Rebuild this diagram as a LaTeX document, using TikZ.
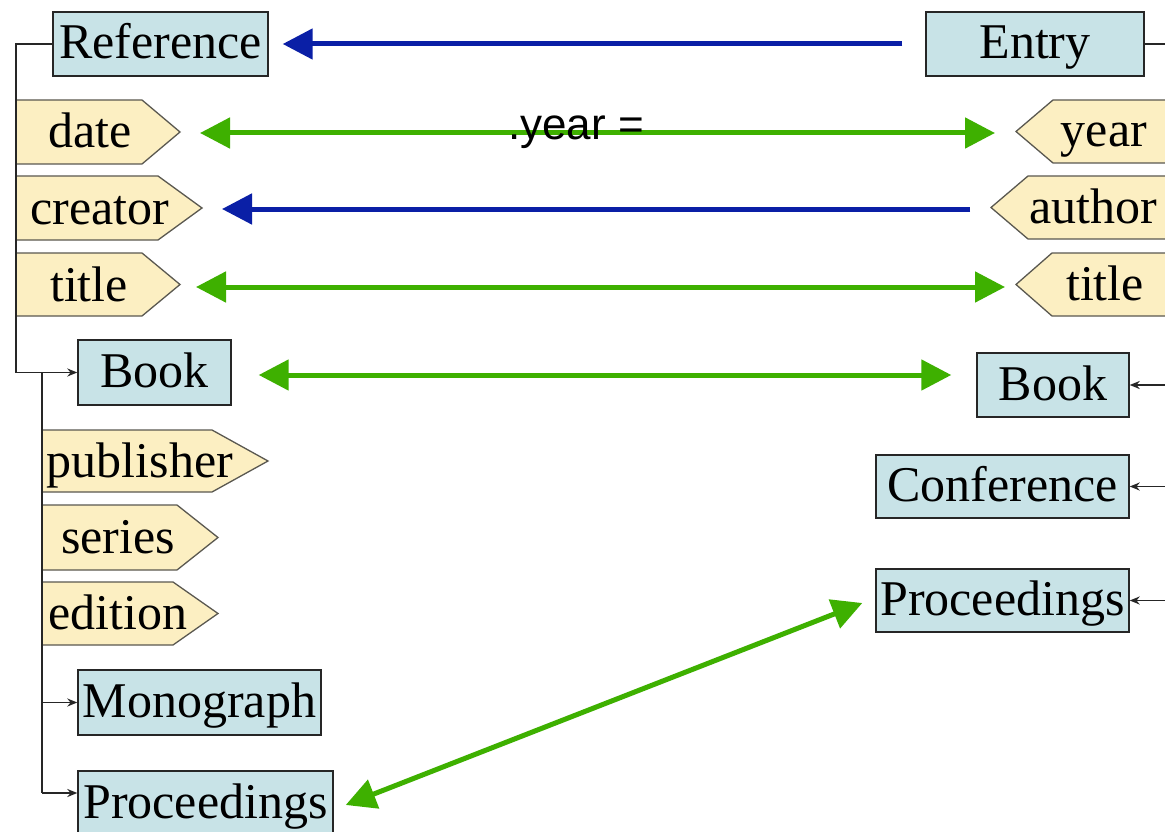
\documentclass[tikz,border=0pt]{standalone}
\usepackage{fontspec}
\setmainfont{Liberation Serif}
\newfontfamily\labelsans{Liberation Sans}
\usetikzlibrary{arrows.meta,calc}

\definecolor{clsfill}{HTML}{C8E3E7}
\definecolor{tagfill}{HTML}{FCEFC2}
\definecolor{tagline}{HTML}{5A5850}
\definecolor{mapblue}{HTML}{0A1FA6}
\definecolor{mapgreen}{HTML}{3EB000}

\tikzset{
  bigfont/.style={font=\fontsize{50}{60}\selectfont},
  cls/.style={bigfont, draw=black!85, line width=1.4pt, fill=clsfill, inner sep=0pt,
    text height=36pt, text depth=6pt, minimum height=64pt},
  taglabel/.style={bigfont, inner sep=0pt, anchor=base},
  tagshape/.style={draw=tagline, line width=1.3pt, fill=tagfill, line join=miter},
  tree/.style={draw=black!85, line width=1.7pt},
  treearrow/.style={tree, -{Stealth[length=10pt,width=8pt]}},
  oneway/.style={draw=mapblue, line width=5pt, -{Triangle[length=30pt,width=30pt]}},
  twoway/.style={draw=mapgreen, line width=5pt,
    {Triangle[length=30pt,width=30pt]}-{Triangle[length=30pt,width=30pt]}},
}

\begin{document}
\begin{tikzpicture}[x=1pt,y=-1pt]
\fill[white] (0,0) rectangle (1165,832);
\useasboundingbox (0,0) rectangle (1165,832);

% trunk positions and the right edge
\coordinate (trunkx) at (16,0);
\coordinate (sub) at (42,0);
\coordinate (edge) at (1175,0);

% ---------- left hierarchy: Reference ----------
\node[cls, minimum width=215pt] (ref) at (160.5,44) {Reference};

\filldraw[tagshape] (16,100) -- (142,100) -- (180,132) -- (142,164) -- (16,164) -- cycle;
\coordinate (dateTip) at (180,132);
\node[taglabel] (date) at (90,148) {date};

\filldraw[tagshape] (16,176) -- (158,176) -- (202,208) -- (158,240) -- (16,240) -- cycle;
\coordinate (creatorTip) at (202,208);
\node[taglabel] (creator) at (100,224) {creator};

\filldraw[tagshape] (16,253) -- (142,253) -- (180,284.5) -- (142,316) -- (16,316) -- cycle;
\coordinate (titleLTip) at (180,284.5);
\node[taglabel] (titleL) at (89,301) {title};

\node[cls, minimum width=153pt, minimum height=65pt] (bookL) at (154.5,372.5) {Book};

\filldraw[tagshape] (42,430) -- (212,430) -- (268,461) -- (212,492) -- (42,492) -- cycle;
\node[taglabel] (publisher) at (140,477) {publisher};

\filldraw[tagshape] (42,505) -- (177,505) -- (218,537.5) -- (177,570) -- (42,570) -- cycle;
\node[taglabel] (series) at (118,553) {series};

\filldraw[tagshape] (42,582) -- (173,582) -- (218,613.5) -- (173,645) -- (42,645) -- cycle;
\node[taglabel] (edition) at (118,629) {edition};

\node[cls, minimum width=243pt, minimum height=65pt] (mono) at (199.5,702.5) {Monograph};
\node[cls, minimum width=255pt] (procL) at (205.5,803) {Proceedings};

% tree lines on the left
\draw[tree] (ref.west) -| (bookL.west -| trunkx);
\draw[treearrow] (bookL.west -| trunkx) -- (bookL.west);
\coordinate (procIn) at ($(procL.west)+(0,-10)$);
\draw[tree] (bookL.west -| sub) -- (procIn -| sub);
\draw[treearrow] (mono.west -| sub) -- (mono.west);
\draw[treearrow] (procIn -| sub) -- (procIn);

% ---------- right hierarchy: Entry ----------
\node[cls, minimum width=218pt] (entry) at (1035,44) {Entry};
\draw[tree] (entry.east) -- (entry.east -| edge);

\filldraw[tagshape] (1180,100) -- (1053,100) -- (1016,131.5) -- (1053,163) -- (1180,163) -- cycle;
\coordinate (yearTip) at (1016,131.5);
\node[taglabel] (year) at (1104,147) {year};

\filldraw[tagshape] (1180,176) -- (1028,176) -- (991,207.5) -- (1028,239) -- (1180,239) -- cycle;
\coordinate (authorTip) at (991,207.5);
\node[taglabel] (author) at (1093,223) {author};

\filldraw[tagshape] (1180,253) -- (1052,253) -- (1016,284.5) -- (1052,316) -- (1180,316) -- cycle;
\coordinate (titleRTip) at (1016,284.5);
\node[taglabel] (titleR) at (1105,300) {title};

\node[cls, minimum width=152pt] (bookR) at (1053,385) {Book};
\node[cls, minimum width=253pt, minimum height=63pt] (conf) at (1002.5,486.5) {Conference};
\node[cls, minimum width=253pt, minimum height=63pt] (procR) at (1002.5,600.5) {Proceedings};

\draw[treearrow] (bookR.east -| edge) -- (bookR.east);
\draw[treearrow] (conf.east -| edge) -- (conf.east);
\draw[treearrow] (procR.east -| edge) -- (procR.east);

% ---------- mappings ----------
\draw[oneway] ($(entry.west)+(-23,0)$) -- ($(ref.east)+(14,0)$);
\draw[twoway] ($(dateTip)+(20,1)$) -- ($(yearTip)+(-21,1.5)$);
\draw[oneway] ($(authorTip)+(-21,1.5)$) -- ($(creatorTip)+(20,1)$);
\draw[twoway] ($(titleLTip)+(16,2.5)$) -- ($(titleRTip)+(-11,2.5)$);
\draw[twoway] ($(bookL.east)+(27,2.5)$) -- ($(bookL.east -| bookR.west)+(-25,2.5)$);
\draw[twoway] ($(procL.east)+(12,2)$) -- ($(procR.west)+(-13,2.5)$);

\node[font=\labelsans\fontsize{44}{50}\selectfont, inner sep=0pt, anchor=base] (yearNote) at (576,140) {.year =};
\end{tikzpicture}
\end{document}
